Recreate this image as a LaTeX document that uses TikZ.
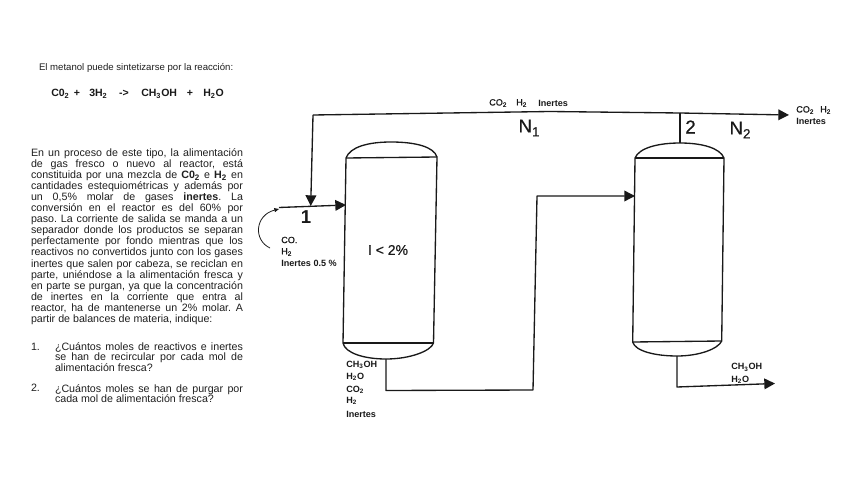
\documentclass[tikz,border=0pt]{standalone}
\usepackage{fontspec}
\setmainfont{Liberation Sans}
\newfontfamily\scanfont[FakeBold=0.6]{Liberation Sans}
\usetikzlibrary{arrows.meta}
\newcommand{\sbs}[1]{\textsubscript{#1}}
\frenchspacing
\tikzset{
  txt/.style={inner sep=0pt,outer sep=0pt,text=black!88,font=\fontsize{8}{8.3}\selectfont\frenchspacing},
  para/.style={txt,anchor=north west,text width=159pt,align=justify},
  eqn/.style={inner sep=0pt,text=black!90,font=\fontsize{7.9}{9}\selectfont\bfseries},
  lab/.style={inner sep=0pt,anchor=west,text=black!90,font=\fontsize{6.8}{8}\selectfont\scanfont},
  blab/.style={lab,font=\fontsize{6.8}{8}\selectfont\bfseries},
  big/.style={inner sep=0pt,text=black!90,font=\fontsize{14}{16}\selectfont\scanfont},
  ves/.style={draw=black!90,line width=1pt,line join=round},
  pipe/.style={draw=black!90,line width=1pt,line join=round},
  flow/.style={pipe,-{Triangle[length=8pt,width=8pt]}}
}
\begin{document}
\begin{tikzpicture}[x=0.75pt,y=-0.75pt]
\useasboundingbox (0,0) rectangle (848,477);
% ---------- text column
\node[txt,anchor=west] (intro) at (39,67.5) {\fontsize{7.2}{9}\selectfont El metanol puede sintetizarse por la reacción:};
\node[eqn,anchor=west] (e1) at (51,94) {C0\sbs{2}};
\node[eqn] (e2) at (77,93.5) {+};
\node[eqn,anchor=west] (e3) at (89,94) {3H\sbs{2}};
\node[eqn] (e4) at (124,93.5) {->};
\node[eqn,anchor=west] (e5) at (141,94) {CH\sbs{3}OH};
\node[eqn] (e6) at (190,93.5) {+};
\node[eqn,anchor=west] (e7) at (203,94) {H\sbs{2}O};
\node[para] (body) at (31,148.5) {En un proceso de este tipo, la alimentación\linebreak
de gas fresco o nuevo al reactor, está\linebreak
constituida por una mezcla de \textbf{C0\sbs{2}} e \textbf{H\sbs{2}} en\linebreak
cantidades estequiométricas y además por\linebreak
un 0,5\% molar de gases \textbf{inertes}. La\linebreak
conversión en el reactor es del 60\% por\linebreak
paso. La corriente de salida se manda a un\linebreak
separador donde los productos se separan\linebreak
perfectamente por fondo mientras que los\linebreak
reactivos no convertidos junto con los gases\linebreak
inertes que salen por cabeza, se reciclan en\linebreak
parte, uniéndose a la alimentación fresca y\linebreak
en parte se purgan, ya que la concentración\linebreak
de inertes en la corriente que entra al\linebreak
reactor, ha de mantenerse un 2\% molar. A\linebreak
partir de balances de materia, indique:};
\node[txt,anchor=north west] (n1) at (31,343) {1.};
\node[para,text width=141pt,font=\fontsize{8}{7.9}\selectfont\frenchspacing] (q1) at (55,342.5) {¿Cuántos moles de reactivos e inertes\linebreak
se han de recircular por cada mol de\linebreak
alimentación fresca?};
\node[txt,anchor=north west] (n2) at (31,384.5) {2.};
\node[para,text width=141pt,font=\fontsize{8}{7.9}\selectfont\frenchspacing] (q2) at (55,384.5) {¿Cuántos moles se han de purgar por\linebreak
cada mol de alimentación fresca?};
% ---------- vessels
\draw[ves] (346,158) .. controls (350,147) and (368,142) .. (391,142) .. controls (416,142) and (434,147) .. (437,157)
  -- (433.5,343) .. controls (431,351) and (410,359) .. (386,359) .. controls (364,359) and (345,353) .. (343,343) -- cycle;
\draw[ves] (346,158) -- (437,157);
\draw[ves] (343,343) -- (433.5,343);
\draw[ves] (635,158) .. controls (639,148) and (658,143) .. (680,143) .. controls (702,143) and (720,148) .. (724,158)
  -- (721.7,341) .. controls (718,349) and (699,356) .. (677,356) .. controls (655,356) and (635,351) .. (632.7,342) -- cycle;
\draw[ves] (635,158) -- (724,158);
\draw[ves] (632.7,342) -- (721.7,341);
% ---------- pipe junctions
\coordinate (corner) at (313,115);
\coordinate (mid) at (550,111.5);
\coordinate (tee) at (680,113);
\coordinate (outN) at (789,115);
\coordinate (join) at (310.7,206);
\coordinate (feedS) at (279,207.5);
\coordinate (feedE) at (346,205);
\coordinate (t1b) at (386,359);
\coordinate (b1) at (386,390.5);
\coordinate (b2) at (533,390);
\coordinate (b3) at (537,196);
\coordinate (t2in) at (635,196);
\coordinate (t2t) at (680,143);
\coordinate (t2b) at (677,356);
\coordinate (c1) at (677,387);
\coordinate (c2) at (775,383.5);
\coordinate (fs) at (270,248);
% ---------- pipes
\draw[flow] (tee) -- (outN);
\draw[pipe] (tee) -- (mid) -- (corner);
\draw[flow] (corner) -- (join);
\draw[flow] (feedS) -- (feedE);
\draw[pipe] (tee) -- (t2t);
\draw[flow] (t1b) -- (b1) -- (b2) -- (b3) -- (t2in);
\draw[flow] (t2b) -- (c1) -- (c2);
\draw[draw=black!90,line width=0.6pt,-{Triangle[length=3.5pt,width=3pt]}] (fs) .. controls (253,240) and (255,215) .. (279,209);
% ---------- labels
\node[big,font=\fontsize{14}{16}\selectfont\bfseries] (l1) at (306,217) {1};
\node[big] (l2) at (690.5,127) {2};
\node[big] (N1) at (529,128) {N\raisebox{-3pt}{\fontsize{10}{11}\selectfont 1}};
\node[big] (N2) at (740,130) {N\raisebox{-3pt}{\fontsize{10}{11}\selectfont 2}};
\node[inner sep=0pt,text=black!90,font=\fontsize{10.5}{12}\selectfont\scanfont] (cond) at (388,250) {I < 2\%};
\node[lab] (a1) at (489,103) {CO\sbs{2}};
\node[lab] (a2) at (516,103) {H\sbs{2}};
\node[blab] (a3) at (538,103.5) {Inertes};
\node[lab] (b4) at (796,110) {CO\sbs{2}};
\node[lab] (b5) at (820,110) {H\sbs{2}};
\node[blab] (b6) at (796,121) {Inertes};
\node[lab] (f1) at (281,240) {CO.};
\node[lab] (f2) at (281,252) {H\sbs{2}};
\node[blab] (f3) at (281,263) {Inertes 0.5 \%};
\node[blab] (m1) at (346,365) {CH\sbs{3}OH};
\node[blab] (m2) at (346,377) {H\sbs{2}O};
\node[blab] (m3) at (346,390) {CO\sbs{2}};
\node[blab] (m4) at (346,401) {H\sbs{2}};
\node[blab] (m5) at (346,414) {Inertes};
\node[blab] (o1) at (731,367.5) {CH\sbs{3}OH};
\node[blab] (o2) at (731,379.5) {H\sbs{2}O};
\end{tikzpicture}
\end{document}
